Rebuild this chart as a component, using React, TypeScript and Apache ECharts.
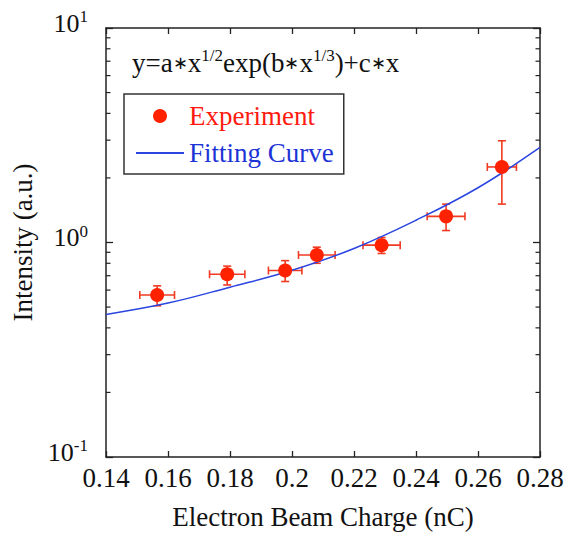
import { useEffect, useRef } from "react";
import * as echarts from "echarts";

// Measured points: beam charge (nC) and signal intensity (a.u.) with error ranges
const charge = [0.1565, 0.1791, 0.1978, 0.208, 0.2289, 0.2497, 0.2677];
const intensity = [0.569, 0.711, 0.74, 0.874, 0.972, 1.324, 2.25];
const chargeErr = [0.0056, 0.0057, 0.0054, 0.0059, 0.006, 0.0061, 0.0047];
const intensityLow = [0.507, 0.634, 0.658, 0.8, 0.889, 1.137, 1.51];
const intensityHigh = [0.628, 0.776, 0.823, 0.951, 1.055, 1.51, 2.98];

// Fitted curve samples
const fitCharge = [0.14, 0.16, 0.18, 0.2, 0.22, 0.24, 0.26, 0.28];
const fitIntensity = [0.462, 0.522, 0.619, 0.742, 0.938, 1.27, 1.8, 2.773];

// Minor tick values on the logarithmic intensity axis
const yMinorTicks = [0.2, 0.3, 0.4, 0.5, 0.6, 0.7, 0.8, 0.9, 2, 3, 4, 5, 6, 7, 8, 9];

const FONT = "Liberation Serif";
const INK = "#111111";
const AXIS = "#222222";
const RED = "#ff2200";
const ERR = "#f03a22";
const BLUE = "#2a45e0";

export default function App() {
  const ref = useRef<HTMLDivElement>(null);

  useEffect(() => {
    document.body.style.margin = "0";
    const chart = echarts.init(ref.current!, undefined, { renderer: "svg" });

    const axisLine = { show: true, onZero: false, lineStyle: { color: AXIS, width: 1.5 } };
    const xTick = { show: true, inside: true, length: 6, lineStyle: { color: AXIS, width: 1.3 } };
    const yTick = { show: true, inside: true, length: 7, lineStyle: { color: AXIS, width: 1.3 } };

    const option: any = {
      animation: false,
      backgroundColor: "#ffffff",
      textStyle: { fontFamily: FONT },
      grid: { left: 106, right: 34, top: 28, bottom: 75 },
      xAxis: [
        {
          type: "value",
          position: "bottom",
          min: 0.14,
          max: 0.28,
          interval: 0.02,
          name: "Electron Beam Charge (nC)",
          nameLocation: "middle",
          nameGap: 46,
          nameTextStyle: { fontFamily: FONT, fontSize: 27, color: INK },
          axisLine,
          axisTick: xTick,
          axisLabel: { fontFamily: FONT, fontSize: 27, color: INK, margin: 7, interval: 0 },
          splitLine: { show: false },
        },
        {
          type: "value",
          position: "top",
          min: 0.14,
          max: 0.28,
          interval: 0.02,
          axisLine,
          axisTick: xTick,
          axisLabel: { show: false },
          splitLine: { show: false },
        },
      ],
      yAxis: [
        {
          type: "log",
          logBase: 10,
          position: "left",
          min: 0.1,
          max: 10,
          name: "Intensity (a.u.)",
          nameLocation: "middle",
          nameGap: 65,
          nameRotate: 90,
          nameTextStyle: { fontFamily: FONT, fontSize: 27, color: INK },
          axisLine,
          axisTick: yTick,
          axisLabel: {
            margin: 18,
            padding: [0, 0, 10, 0],
            formatter: (v: number) => `{b|10}{s|${Math.round(Math.log10(v))}}`,
            rich: {
              b: { fontFamily: FONT, fontSize: 26, lineHeight: 30, color: INK },
              s: { fontFamily: FONT, fontSize: 17, lineHeight: 16, verticalAlign: "top", color: INK },
            },
          },
          splitLine: { show: false },
        },
        {
          type: "log",
          logBase: 10,
          position: "right",
          min: 0.1,
          max: 10,
          axisLine,
          axisTick: yTick,
          axisLabel: { show: false },
          splitLine: { show: false },
        },
      ],
      legend: {
        orient: "vertical",
        left: 124,
        top: 94,
        padding: [7, 10, 6, 11],
        itemGap: 7,
        itemWidth: 48,
        itemHeight: 14,
        borderColor: "#333333",
        borderWidth: 1.5,
        backgroundColor: "#ffffff",
        selectedMode: false,
        textStyle: { fontFamily: FONT, fontSize: 27, lineHeight: 30 },
        data: [
          { name: "Experiment", textStyle: { color: "#ff1a10" } },
          { name: "Fitting Curve", itemStyle: { opacity: 0 }, textStyle: { color: "#1c33d6" } },
        ],
      },
      graphic: [
        {
          type: "text",
          left: 132,
          top: 47,
          silent: true,
          style: {
            text: "{n|y=a}{m|∗}{n|x}{s|1/2}{n|exp(b}{m|∗}{n|x}{s|1/3}{n|)+c}{m|∗}{n|x}",
            rich: {
              n: { fontFamily: FONT, fontSize: 27, lineHeight: 32, fill: INK },
              m: { fontFamily: FONT, fontSize: 18, lineHeight: 32, fill: INK },
              s: { fontFamily: FONT, fontSize: 17, lineHeight: 18, verticalAlign: "top", fill: INK },
            },
          },
        },
      ],
      series: [
        {
          // minor log ticks on left and right frame edges
          type: "custom",
          name: "minorTicks",
          silent: true,
          clip: false,
          z: 1,
          data: yMinorTicks.map((v) => [0.2, v]),
          encode: { x: 0, y: 1 },
          renderItem: (params: any, api: any) => {
            const cs = params.coordSys;
            const y = api.coord([api.value(0), api.value(1)])[1];
            const style = { stroke: AXIS, lineWidth: 1.2 };
            return {
              type: "group",
              children: [
                { type: "line", shape: { x1: cs.x, y1: y, x2: cs.x + 4.5, y2: y }, style },
                { type: "line", shape: { x1: cs.x + cs.width - 4.5, y1: y, x2: cs.x + cs.width, y2: y }, style },
              ],
            };
          },
        },
        {
          // error bars in both directions
          type: "custom",
          name: "errorBars",
          silent: true,
          z: 2,
          data: charge.map((c, i) => [c, intensity[i], chargeErr[i], intensityLow[i], intensityHigh[i]]),
          encode: { x: 0, y: 1 },
          renderItem: (_params: any, api: any) => {
            const x = api.value(0);
            const y = api.value(1);
            const dx = api.value(2);
            const l = api.coord([x - dx, y]);
            const r = api.coord([x + dx, y]);
            const t = api.coord([x, api.value(4)]);
            const b = api.coord([x, api.value(3)]);
            const cap = 4;
            const style = { stroke: ERR, lineWidth: 1.6 };
            return {
              type: "group",
              children: [
                { type: "line", shape: { x1: l[0], y1: l[1], x2: r[0], y2: r[1] }, style },
                { type: "line", shape: { x1: l[0], y1: l[1] - cap, x2: l[0], y2: l[1] + cap }, style },
                { type: "line", shape: { x1: r[0], y1: r[1] - cap, x2: r[0], y2: r[1] + cap }, style },
                { type: "line", shape: { x1: t[0], y1: t[1], x2: b[0], y2: b[1] }, style },
                { type: "line", shape: { x1: t[0] - cap, y1: t[1], x2: t[0] + cap, y2: t[1] }, style },
                { type: "line", shape: { x1: b[0] - cap, y1: b[1], x2: b[0] + cap, y2: b[1] }, style },
              ],
            };
          },
        },
        {
          type: "line",
          name: "Fitting Curve",
          data: fitCharge.map((c, i) => [c, fitIntensity[i]]),
          smooth: 0.4,
          symbol: "none",
          showSymbol: false,
          color: BLUE,
          lineStyle: { color: BLUE, width: 1.5 },
          z: 3,
        },
        {
          type: "scatter",
          name: "Experiment",
          data: charge.map((c, i) => [c, intensity[i]]),
          symbol: "circle",
          symbolSize: 14,
          itemStyle: { color: RED, opacity: 1 },
          z: 4,
        },
      ],
    };

    chart.setOption(option);
    return () => chart.dispose();
  }, []);

  return (
    <div
      ref={ref}
      style={{ position: "absolute", left: 0, top: 0, width: 574, height: 535 }}
    />
  );
}
